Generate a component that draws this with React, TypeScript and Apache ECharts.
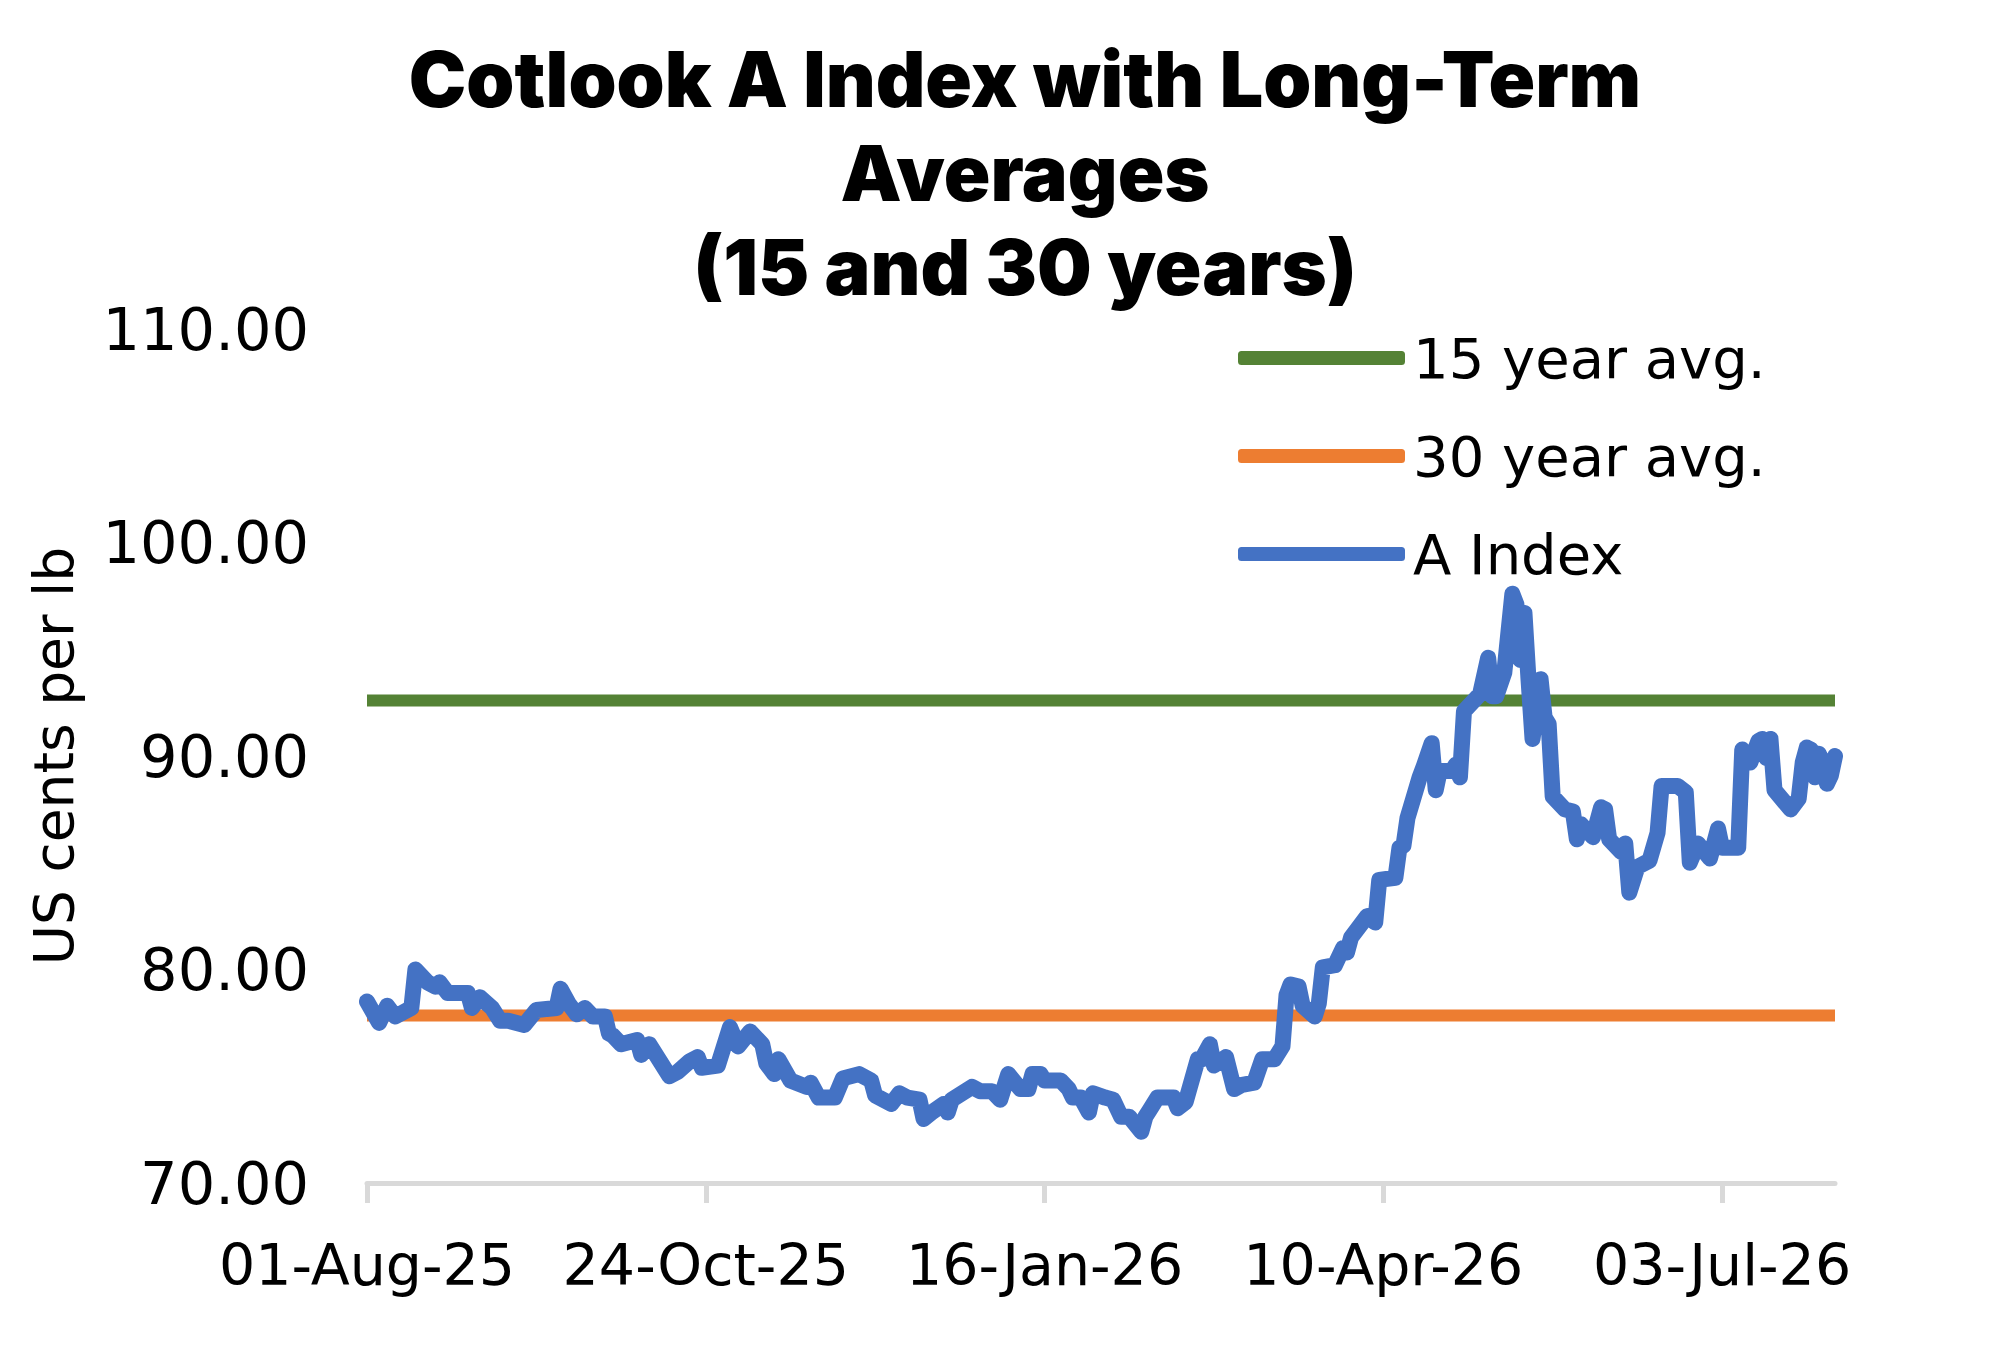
import React, { useEffect, useRef } from "react";
import * as echarts from "echarts";

// Tick labels on the date axis (every 84 days from 01-Aug-25)
const tickLabels = ["01-Aug-25", "24-Oct-25", "16-Jan-26", "10-Apr-26", "03-Jul-26"];
const tickStepDays = 84;
const lastDay = 364;

// Days since 01-Aug-25
const dayOffsets = [
  0, 3, 5, 7, 9, 11, 12, 15, 17, 18, 20, 25, 26, 28, 31, 33, 35, 39, 42, 47, 48, 50, 52, 54, 56, 59, 60, 61, 63,
  67, 68, 70, 75, 77, 80, 82, 83, 87, 90, 92, 95, 98, 99, 101, 102, 105, 109, 110, 112, 116, 118, 122, 125, 126,
  130, 132, 134, 137, 138, 140, 143, 144, 145, 150, 152, 155, 157, 159, 162, 164, 165, 167, 168, 172, 174, 175,
  177, 179, 180, 183, 185, 187, 189, 192, 193, 194, 196, 200, 201, 203, 206, 207, 209, 210, 213, 215, 217, 220,
  222, 225, 227, 228, 229, 231, 232, 235, 236, 237, 240, 242, 243, 244, 248, 250, 251, 255, 256, 257, 258, 261,
  262, 264, 265, 266, 269, 270, 271, 272, 276, 278, 279, 280, 282, 284, 285, 286, 287, 288, 289, 291, 292, 293,
  294, 297, 299, 300, 301, 304, 306, 307, 308, 311, 312, 313, 315, 318, 320, 321, 325, 327, 328, 330, 333, 335,
  336, 340, 341, 343, 345, 346, 347, 348, 349, 353, 355, 356, 357, 358, 359, 360, 361, 362, 363, 364,
];

// Cotlook A Index, US cents per lb
const aIndexValues = [
  78.5, 77.5, 78.3, 77.8, 78.0, 78.2, 80.0, 79.4, 79.2, 79.4, 78.9, 78.9, 78.2, 78.7, 78.2, 77.6, 77.6, 77.4, 78.1,
  78.2, 79.1, 78.4, 77.9, 78.2, 77.8, 77.8, 77.0, 76.9, 76.5, 76.7, 76.0, 76.5, 75.0, 75.2, 75.7, 75.9, 75.4, 75.5,
  77.3, 76.4, 77.1, 76.5, 75.6, 75.1, 75.8, 74.8, 74.5, 74.7, 74.0, 74.0, 74.9, 75.1, 74.8, 74.1, 73.7, 74.2, 74.0,
  73.9, 73.0, 73.3, 73.7, 73.3, 73.9, 74.5, 74.3, 74.3, 73.9, 75.1, 74.4, 74.4, 75.1, 75.1, 74.8, 74.8, 74.4, 74.0,
  74.0, 73.3, 74.2, 74.0, 73.9, 73.1, 73.1, 72.4, 73.1, 73.4, 74.0, 74.0, 73.5, 73.8, 75.8, 75.8, 76.5, 75.5, 75.9,
  74.4, 74.6, 74.7, 75.8, 75.8, 76.4, 78.8, 79.3, 79.2, 78.3, 77.8, 78.4, 80.1, 80.2, 81.0, 80.8, 81.5, 82.5, 82.2,
  84.2, 84.3, 85.7, 85.8, 87.1, 89.0, 89.5, 90.6, 88.4, 89.3, 89.3, 89.6, 89.0, 92.1, 92.9, 94.6, 92.8, 92.8, 93.9,
  97.6, 97.1, 94.5, 96.7, 93.6, 90.8, 93.6, 91.8, 91.5, 88.1, 87.5, 87.4, 86.1, 86.8, 86.2, 87.6, 87.5, 86.1, 85.5,
  85.9, 83.6, 84.8, 85.1, 86.4, 88.6, 88.6, 88.3, 85.0, 85.9, 85.2, 86.6, 85.7, 85.7, 90.3, 89.7, 90.7, 90.8, 89.9,
  90.8, 88.4, 87.5, 88.0, 89.7, 90.4, 90.3, 89.0, 90.1, 89.7, 88.7, 89.1, 90.0,
];

const avg15Year = 92.6;
const avg30Year = 77.85;

const seriesNames = ["15 year avg.", "30 year avg.", "A Index"];

const LABEL_FONT = "'DejaVu Sans', sans-serif";

export default function App() {
  const ref = useRef<HTMLDivElement>(null);

  useEffect(() => {
    if (!ref.current) return;
    const chart = echarts.init(ref.current, undefined, { renderer: "svg" });

    const aIndexData = dayOffsets.map((d, i) => [d, aIndexValues[i]]);

    chart.setOption({
      animation: false,
      backgroundColor: "#ffffff",
      title: {
        text: "Cotlook A Index with Long-Term\nAverages\n(15 and 30 years)",
        left: 1020,
        top: 27,
        textAlign: "center",
        textStyle: {
          fontFamily: "Inter, sans-serif",
          fontWeight: 900,
          fontSize: 77,
          lineHeight: 94,
          color: "#000000",
        },
      },
      legend: {
        orient: "vertical",
        left: 1233,
        top: 323,
        itemWidth: 167,
        itemHeight: 14,
        itemGap: 38,
        icon: "roundRect",
        data: seriesNames,
        textStyle: {
          fontFamily: LABEL_FONT,
          fontSize: 56,
          lineHeight: 60,
          color: "#000000",
          padding: [0, 0, 0, 3],
        },
      },
      grid: {
        left: 367,
        right: 175,
        top: 329,
        bottom: 187,
        containLabel: false,
      },
      xAxis: {
        type: "value",
        min: 0,
        max: lastDay,
        interval: tickStepDays,
        axisLine: { show: true, lineStyle: { color: "#D9D9D9", width: 5 } },
        axisTick: { show: true, length: 20, lineStyle: { color: "#D9D9D9", width: 5 } },
        splitLine: { show: false },
        axisLabel: {
          margin: 53,
          fontFamily: LABEL_FONT,
          fontSize: 57,
          color: "#000000",
          showMaxLabel: false,
          formatter: (v: number) => {
            const idx = Math.round(v / tickStepDays);
            return tickLabels[idx] ?? "";
          },
        },
      },
      yAxis: {
        type: "value",
        min: 70,
        max: 110,
        interval: 10,
        axisLine: { show: false },
        axisTick: { show: false },
        splitLine: { show: false },
        axisLabel: {
          margin: 58,
          fontFamily: LABEL_FONT,
          fontSize: 59,
          color: "#000000",
          formatter: (v: number) => v.toFixed(2),
        },
      },
      graphic: [
        {
          type: "text",
          x: 54,
          y: 756,
          rotation: Math.PI / 2,
          style: {
            text: "US cents per lb",
            fontFamily: LABEL_FONT,
            fontSize: 55,
            fill: "#000000",
            align: "center",
            verticalAlign: "middle",
          },
        },
      ],
      series: [
        {
          name: seriesNames[0],
          type: "line",
          data: [
            [0, avg15Year],
            [lastDay, avg15Year],
          ],
          showSymbol: false,
          symbol: "none",
          color: "#548235",
          lineStyle: { color: "#548235", width: 12 },
          z: 2,
        },
        {
          name: seriesNames[1],
          type: "line",
          data: [
            [0, avg30Year],
            [lastDay, avg30Year],
          ],
          showSymbol: false,
          symbol: "none",
          color: "#ED7D31",
          lineStyle: { color: "#ED7D31", width: 12 },
          z: 2,
        },
        {
          name: seriesNames[2],
          type: "line",
          data: aIndexData,
          showSymbol: false,
          symbol: "none",
          color: "#4472C4",
          lineStyle: { color: "#4472C4", width: 16, cap: "round", join: "round" },
          z: 3,
        },
      ],
    });

    return () => chart.dispose();
  }, []);

  return (
    <div
      ref={ref}
      style={{ position: "fixed", left: 0, top: 0, width: 2010, height: 1370, background: "#fff" }}
    />
  );
}
